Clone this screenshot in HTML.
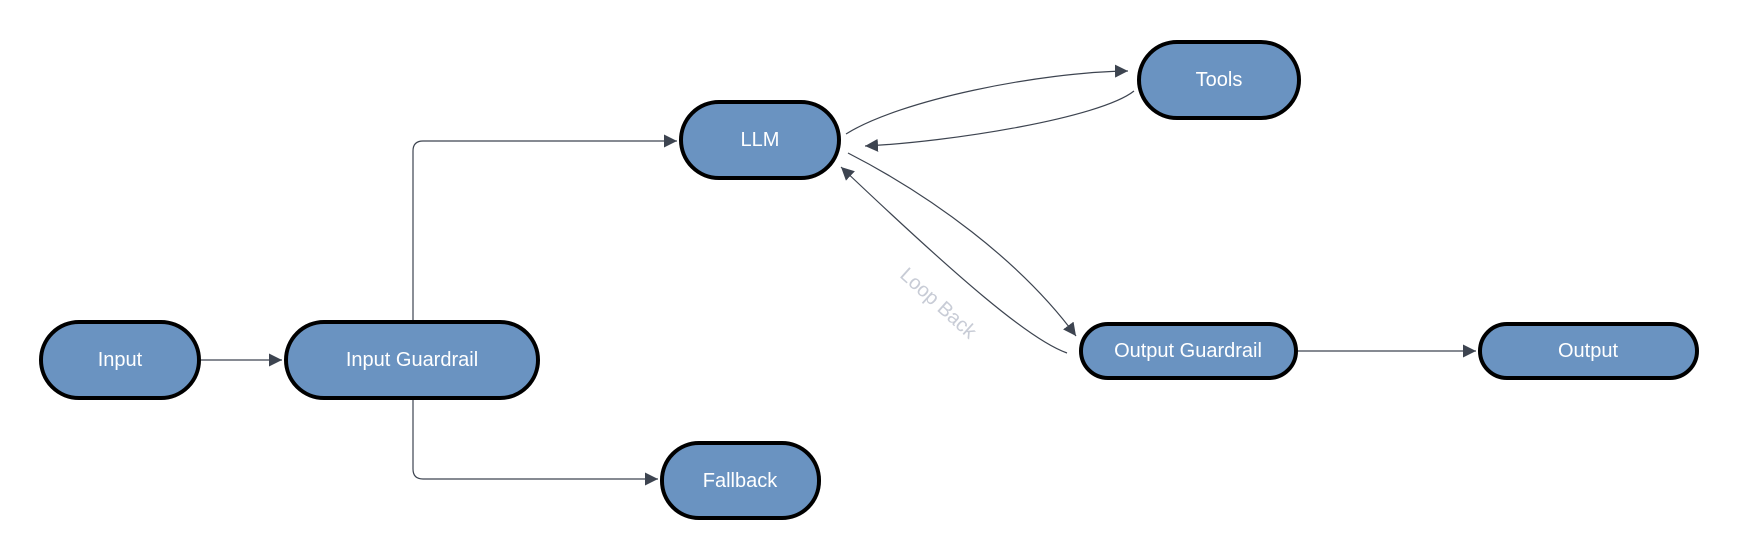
<!DOCTYPE html>
<html><head><meta charset="utf-8"><style>
html,body{margin:0;padding:0;background:#fff;}
svg{display:block;}
text{font-family:"Liberation Sans",sans-serif;}
</style></head><body>
<svg width="1740" height="560" viewBox="0 0 1740 560" xmlns="http://www.w3.org/2000/svg">
<defs>
<marker id="a" viewBox="0 0 10 10" refX="10" refY="5" markerWidth="13" markerHeight="13" markerUnits="userSpaceOnUse" orient="auto">
<path d="M0,0 L10,5 L0,10 z" fill="#3d4450"/>
</marker>
</defs>
<g fill="none" stroke="#3d4450" stroke-width="1.2">
<path d="M201,360 L282,360" marker-end="url(#a)"/>
<path d="M413,320 L413,151 Q413,141 423,141 L677,141" marker-end="url(#a)"/>
<path d="M413,400 L413,469 Q413,479 423,479 L658,479" marker-end="url(#a)"/>
<path d="M846,134 C900,100 1040,72 1128,71" marker-end="url(#a)"/>
<path d="M1134,91 C1100,118 950,142 865,146" marker-end="url(#a)"/>
<path d="M848,153 C930,195 1020,260 1076,336" marker-end="url(#a)"/>
<path d="M1067,353 C1030,340 960,280 841,167" marker-end="url(#a)"/>
<path d="M1298,351 L1476,351" marker-end="url(#a)"/>
</g>
<text x="934" y="308" transform="rotate(42 934 308)" text-anchor="middle" font-size="20" fill="#c8ccd6">Loop Back</text>
<g fill="#6a93c1" stroke="#000" stroke-width="4">
<rect x="41" y="322" width="158" height="76" rx="38"/>
<rect x="286" y="322" width="252" height="76" rx="38"/>
<rect x="681" y="102" width="158" height="76" rx="38"/>
<rect x="1139" y="42" width="160" height="76" rx="38"/>
<rect x="662" y="443" width="157" height="75" rx="37"/>
<rect x="1081" y="324" width="215" height="54" rx="27"/>
<rect x="1480" y="324" width="217" height="54" rx="27"/>
</g>
<g fill="#fff" font-size="20" text-anchor="middle" dominant-baseline="central">
<text x="120" y="360">Input</text>
<text x="412" y="360">Input Guardrail</text>
<text x="760" y="140">LLM</text>
<text x="1219" y="80">Tools</text>
<text x="740" y="481">Fallback</text>
<text x="1188" y="351">Output Guardrail</text>
<text x="1588" y="351">Output</text>
</g>
</svg>
</body></html>
